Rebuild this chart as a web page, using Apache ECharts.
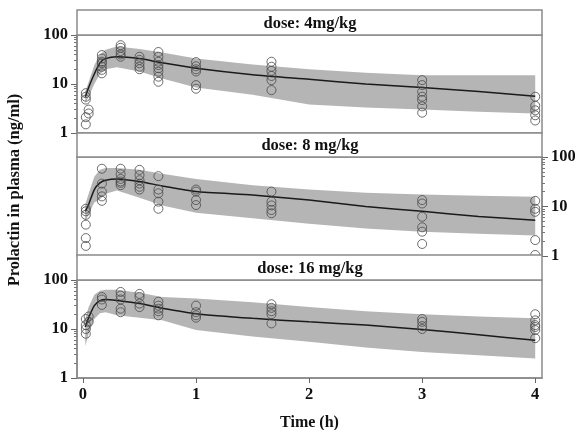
<!DOCTYPE html>
<html>
<head>
<meta charset="utf-8">
<script src="https://cdn.jsdelivr.net/npm/echarts@6/dist/echarts.min.js"></script>
<style>
  html, body { margin: 0; padding: 0; background: #fff; }
  #chart { width: 575px; height: 430px; }
</style>
</head>
<body>
<div id="chart"></div>
<script>
// panel titles
const doses = ['dose: 4mg/kg', 'dose: 8 mg/kg', 'dose: 16 mg/kg'];

// model prediction (median + band) times, h
const predTime = [0.02, 0.05, 0.1, 0.15, 0.2, 0.3, 0.5, 0.7, 1, 1.5, 2, 2.5, 3, 3.5, 4];

// 4 mg/kg
const median4 = [5.5, 8.5, 16, 27, 33, 36, 33, 27, 21, 15.5, 12.5, 10, 8.5, 7, 5.6];
const upper4  = [7, 11, 24, 40, 50, 58, 52, 44, 33, 25, 20, 17, 15, 15, 15];
const lower4  = [4, 5.5, 10, 16, 20, 22, 18, 13, 8.5, 6, 3.8, 3.3, 3.0, 2.7, 2.5];
// 8 mg/kg
const median8 = [8, 11, 22, 30, 34, 36, 32, 26, 20, 17, 13.5, 10, 8, 6.3, 5.3];
const upper8  = [11, 18, 40, 55, 60, 60, 55, 46, 36, 27, 22, 19, 17.5, 16.5, 15.8];
const lower8  = [5, 7, 12, 14, 18, 21, 15, 10.5, 7.5, 5.8, 4.5, 3.6, 3.1, 2.8, 2.6];
// 16 mg/kg
const median16 = [11, 17, 30, 38, 40, 38, 33, 26.5, 20.5, 16.5, 14, 12, 9.8, 7.6, 5.9];
const upper16  = [16, 28, 50, 60, 63, 63, 55, 45, 42, 35, 28, 23, 20, 18, 16.5];
const lower16  = [4.5, 8, 16, 21, 22, 19, 17, 15, 9.5, 7, 5.5, 4.2, 3.4, 2.9, 2.5];

// observed prolactin, [time h, ng/ml]
const obs4 = [
  [0.025, 6.5], [0.025, 5.5], [0.025, 4.8], [0.025, 2.1], [0.025, 1.5], [0.05, 3.0], [0.05, 2.5],
  [0.167, 39], [0.167, 33], [0.167, 28.5], [0.167, 26.5], [0.167, 22.5], [0.167, 19.4], [0.167, 16.5],
  [0.333, 62], [0.333, 55], [0.333, 47], [0.333, 40], [0.333, 36],
  [0.5, 36], [0.5, 31], [0.5, 26.5], [0.5, 22.5], [0.5, 20],
  [0.667, 45], [0.667, 36], [0.667, 28.5], [0.667, 24.4], [0.667, 21], [0.667, 17.8], [0.667, 14.1], [0.667, 11.1],
  [1, 28], [1, 23], [1, 20], [1, 18], [1, 9.5], [1, 8],
  [1.667, 28.5], [1.667, 22.5], [1.667, 18.5], [1.667, 14.6], [1.667, 12], [1.667, 7.5],
  [3, 12], [3, 9.5], [3, 7], [3, 5.5], [3, 4.7], [3, 3.5], [3, 2.6],
  [4, 5.5], [4, 3.6], [4, 2.9], [4, 2.3], [4, 1.8]
];
const obs8 = [
  [0.025, 9], [0.025, 8], [0.025, 6.8], [0.025, 4.3], [0.025, 2.3], [0.025, 1.6],
  [0.167, 58], [0.167, 29], [0.167, 20], [0.167, 16], [0.167, 13],
  [0.333, 58], [0.333, 45], [0.333, 36], [0.333, 32], [0.333, 30], [0.333, 27],
  [0.5, 55], [0.5, 43], [0.5, 34], [0.5, 29], [0.5, 25], [0.5, 22],
  [0.667, 41], [0.667, 22], [0.667, 18.5], [0.667, 12.5], [0.667, 9],
  [1, 22], [1, 20], [1, 13.5], [1, 10.7],
  [1.667, 20], [1.667, 12.5], [1.667, 10.5], [1.667, 8.5], [1.667, 7.3],
  [3, 13.5], [3, 11.5], [3, 6.2], [3, 3.8], [3, 3.1], [3, 1.75],
  [4, 13], [4, 9], [4, 7.8], [4, 2.1], [4, 1.05]
];
const obs16 = [
  [0.025, 16], [0.025, 12], [0.025, 10], [0.025, 8], [0.05, 18], [0.05, 14],
  [0.167, 45], [0.167, 40], [0.167, 31],
  [0.333, 57], [0.333, 48], [0.333, 40], [0.333, 26], [0.333, 22],
  [0.5, 52], [0.5, 45], [0.5, 33], [0.5, 28],
  [0.667, 36], [0.667, 30], [0.667, 26], [0.667, 23], [0.667, 19],
  [1, 30], [1, 22], [1, 19], [1, 17],
  [1.667, 32], [1.667, 27], [1.667, 23], [1.667, 20], [1.667, 13],
  [3, 16], [3, 14], [3, 11.5], [3, 10],
  [4, 20], [4, 15], [4, 12], [4, 11], [4, 9.5], [4, 6.5]
];

const xTicks = [0, 1, 2, 3, 4];
const yTicks = [1, 10, 100];
const yMinorTicks = [2, 3, 4, 5, 6, 7, 8, 9, 20, 30, 40, 50, 60, 70, 80, 90];

const panels = [
  { median: median4, upper: upper4, lower: lower4, obs: obs4 },
  { median: median8, upper: upper8, lower: lower8, obs: obs8 },
  { median: median16, upper: upper16, lower: lower16, obs: obs16 }
];

const plotTop = [35, 157, 280];
const plotH = [98, 99, 98];
const stripTop = [10, 133, 255];
const stripH = [25, 24, 25];
const frame = '#8a8a8a';
const serif = '"Liberation Serif", "Times New Roman", serif';

const myChart = echarts.init(document.getElementById('chart'));

const grids = [], xAxes = [], yAxes = [], series = [];
panels.forEach(function (p, i) {
  grids.push({
    left: 77, width: 465, top: plotTop[i], height: plotH[i],
    show: true, borderColor: frame, borderWidth: 1.5,
    outerBoundsMode: 'none'
  });
  xAxes.push({
    type: 'value', gridIndex: i, min: -0.053, max: 4.06,
    show: i === 2,
    axisLine: { show: true, onZero: false, lineStyle: { color: frame, width: 1.5 } },
    axisTick: { show: true, customValues: xTicks, length: 5, lineStyle: { color: '#666' } },
    axisLabel: { customValues: xTicks, fontFamily: serif, fontWeight: 'bold', fontSize: 16.5, color: '#111', margin: 8 },
    splitLine: { show: false },
    name: i === 2 ? 'Time (h)' : '',
    nameLocation: 'middle', nameGap: 37,
    nameTextStyle: { fontFamily: serif, fontWeight: 'bold', fontSize: 16, color: '#111' }
  });
  const pos = i === 1 ? 'right' : 'left';
  // major ticks + labels
  yAxes.push({
    type: 'log', logBase: 10, gridIndex: i, min: 1, max: 100, position: pos,
    axisLine: { show: true, onZero: false, lineStyle: { color: frame, width: 1.5 } },
    axisTick: { show: true, customValues: yTicks, length: 6, lineStyle: { color: '#666' } },
    axisLabel: { customValues: yTicks, fontFamily: serif, fontWeight: 'bold', fontSize: 16.5, color: '#111', margin: 9 },
    splitLine: { show: false }
  });
  // minor ticks
  yAxes.push({
    type: 'log', logBase: 10, gridIndex: i, min: 1, max: 100, position: pos,
    axisLine: { show: false, onZero: false },
    axisTick: { show: true, customValues: yMinorTicks, length: 3, lineStyle: { color: '#777' } },
    axisLabel: { show: false },
    splitLine: { show: false }
  });

  series.push({
    type: 'custom', xAxisIndex: i, yAxisIndex: 2 * i, silent: true, z: 1,
    data: predTime.map(function (t, k) { return [t, p.lower[k], p.upper[k]]; }),
    encode: { x: 0, y: [1, 2] },
    renderItem: function (params, api) {
      if (params.dataIndex !== 0) return null;
      const pts = [];
      predTime.forEach(function (t, k) { pts.push(api.coord([t, p.upper[k]])); });
      for (let k = predTime.length - 1; k >= 0; k--) pts.push(api.coord([predTime[k], p.lower[k]]));
      return { type: 'polygon', shape: { points: pts }, style: { fill: '#b5b5b5' } };
    }
  });
  series.push({
    type: 'line', xAxisIndex: i, yAxisIndex: 2 * i, z: 3,
    data: predTime.map(function (t, k) { return [t, p.median[k]]; }),
    symbol: 'none', smooth: 0.2,
    lineStyle: { color: '#1a1a1a', width: 1.5 }
  });
  series.push({
    type: 'scatter', xAxisIndex: i, yAxisIndex: 2 * i, z: 4,
    data: p.obs, symbol: 'circle', symbolSize: 9,
    itemStyle: { color: 'rgba(0,0,0,0)', borderColor: '#4a4a4a', borderWidth: 1 }
  });
});

const graphics = [];
doses.forEach(function (d, i) {
  graphics.push({
    type: 'rect', z: 10,
    shape: { x: 77, y: stripTop[i], width: 465, height: stripH[i] },
    style: { fill: '#fff', stroke: frame, lineWidth: 1.5 }
  });
  graphics.push({
    type: 'text', z: 11, x: 310, y: stripTop[i] + stripH[i] / 2 + 1,
    style: { text: d, font: 'bold 16.5px ' + serif, fill: '#111', align: 'center', verticalAlign: 'middle' }
  });
});
graphics.push({
  type: 'text', x: 15, y: 190, rotation: Math.PI / 2,
  style: { text: 'Prolactin in plasma (ng/ml)', font: 'bold 16.5px ' + serif, fill: '#111', align: 'center', verticalAlign: 'middle' }
});

myChart.setOption({
  animation: false,
  grid: grids,
  xAxis: xAxes,
  yAxis: yAxes,
  series: series,
  graphic: graphics
});
</script>
</body>
</html>
